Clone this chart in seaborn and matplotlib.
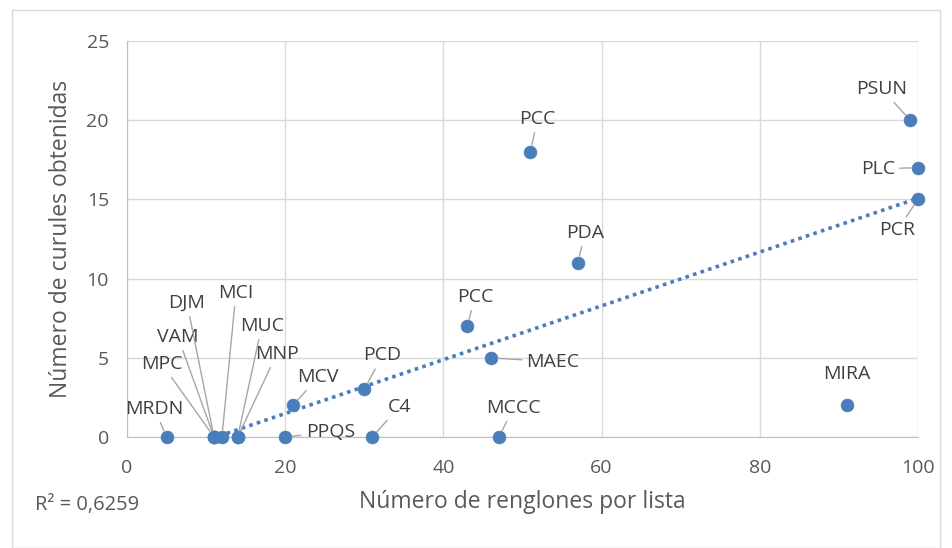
import numpy as np
import pandas as pd
import seaborn as sns
import matplotlib.pyplot as plt
from matplotlib.patches import Rectangle

# datos
partidos = ["MRDN", "MPC", "VAM", "DJM", "MCI", "MUC", "MNP", "PPQS", "MCV", "PCD", "C4",
            "PCC", "MAEC", "MCCC", "PCC", "PDA", "MIRA", "PSUN", "PLC", "PCR"]
renglones = [5, 11, 11, 11, 12, 14, 14, 20, 21, 30, 31, 43, 46, 47, 51, 57, 91, 99, 100, 100]
curules = [0, 0, 0, 0, 0, 0, 0, 0, 2, 3, 0, 7, 5, 0, 18, 11, 2, 20, 17, 15]

# desplazamiento de etiquetas (pixeles) y si llevan línea guía
desp = [(-12, 28), (-52, 73), (-36, 100), (-27, 134), (14, 144), (24, 111), (39, 83),
        (45, 5), (25, 28), (18, 34), (27, 30), (8, 29), (62, -4), (15, 29), (7, 33),
        (7, 30), (0, 31), (-28, 31), (-40, -1), (-21, -31)]
guia = [True] * 20
guia[16] = False

df = pd.DataFrame({"x": renglones, "y": curules, "etiqueta": partidos})

sns.set_style("white")
plt.rcParams['font.family'] = ['Open Sans', 'DejaVu Sans']
azul = "#4A7EBB"
gris = "#595959"
eje = "#BFBFBF"

fig = plt.figure(figsize=(9.53, 5.48), dpi=100)
ax = fig.add_axes([127 / 953, 1 - 437 / 548, (918 - 127) / 953, (437 - 41) / 548])

# línea de tendencia lineal
m, b = np.polyfit(df["x"], df["y"], 1)
xs = np.linspace(df["x"].min(), df["x"].max(), 200)
ax.plot(xs, m * xs + b, color=azul, linestyle=(0, (1, 1.2)), linewidth=2.6, zorder=2)

sns.scatterplot(data=df, x="x", y="y", ax=ax, color=azul, s=85, edgecolor=azul,
                linewidth=0.5, zorder=3, clip_on=False)

for i, r in df.iterrows():
    dx, dy = desp[i]
    ap = dict(arrowstyle="-", color="#A6A6A6", lw=1, shrinkA=1, shrinkB=5) if guia[i] else None
    ax.annotate(r["etiqueta"], (r["x"], r["y"]), xytext=(dx, dy), textcoords="offset pixels",
                ha="center", va="center", fontsize=14, color="#404040", arrowprops=ap,
                annotation_clip=False)

ax.set_xlim(0, 100)
ax.set_ylim(0, 25)
ax.set_xticks(range(0, 101, 20))
ax.set_yticks(range(0, 26, 5))
ax.grid(True, color="#D9D9D9", linewidth=1)
ax.set_axisbelow(True)
for s in ["top", "right"]:
    ax.spines[s].set_visible(False)
for s in ["bottom", "left"]:
    ax.spines[s].set_color(eje)
ax.tick_params(length=5, width=1, color=eje, direction="out", labelsize=14, labelcolor=gris)
ax.tick_params(axis="x", pad=11)
ax.tick_params(axis="y", pad=8)
ax.set_xlabel("Número de renglones por lista", fontsize=16.5, color=gris, labelpad=9)
ax.set_ylabel("Número de curules obtenidas", fontsize=16.5, color=gris, labelpad=10)

r2 = np.corrcoef(df["x"], df["y"])[0, 1] ** 2
fig.text(35 / 953, 1 - 505 / 548, "R² = " + f"{r2:.4f}".replace(".", ","), fontsize=14.5,
         color=gris, va="center")

fig.patches.append(Rectangle((12 / 953, 0.0), 928 / 953, 1 - 10 / 548, transform=fig.transFigure,
                             fill=False, edgecolor="#D9D9D9", linewidth=1))

plt.savefig("out.png", dpi=100)
